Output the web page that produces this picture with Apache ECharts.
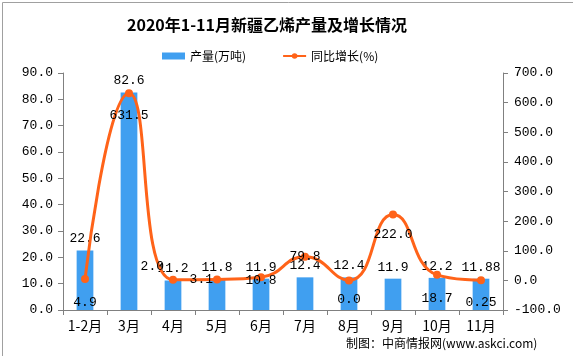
<!DOCTYPE html>
<html><head><meta charset="utf-8">
<script src="https://cdn.jsdelivr.net/npm/echarts@6/dist/echarts.min.js"></script>
<style>html,body{margin:0;padding:0;background:#fff}#c{width:573px;height:356px}</style>
</head><body><div id="c"></div>
<script>
var categories = ['1-2月','3月','4月','5月','6月','7月','8月','9月','10月','11月'];
var output = [22.6, 82.6, 11.2, 11.8, 11.9, 12.4, 12.4, 11.9, 12.2, 11.88];
var growth = [4.9, 631.5, 2.0, 3.1, 10.8, 79.8, 0.0, 222.0, 18.7, 0.25];
var outputLabels = ['22.6','82.6','11.2','11.8','11.9','12.4','12.4','11.9','12.2','11.88'];
var growthLabels = ['4.9','631.5','2.0','3.1','10.8','79.8','0.0','222.0','18.7','0.25'];

var numFont = '"Liberation Mono","Noto Sans CJK SC",monospace';
var cjkFont = '"Noto Sans CJK SC",sans-serif';

// label placement per point (style only)
var linePos = [
  {position:'bottom',distance:13},
  {position:'bottom',distance:12},
  {position:'left',distance:5,offset:[0,-13]},
  {position:'left',distance:0},
  {position:'inside',offset:[0,3]},
  {position:'inside'},
  {position:'bottom',distance:9},
  {position:'bottom',distance:9},
  {position:'bottom',distance:13},
  {position:'bottom',distance:12}
];

var lineData = growth.map(function(v,i){
  var l = Object.assign({show:true, formatter: growthLabels[i]}, linePos[i]);
  return {value: v, label: l};
});
var barData = output.map(function(v,i){
  return {value: v, label: {show:true, position:'top', distance:5, formatter: outputLabels[i]}};
});

var chart = echarts.init(document.getElementById('c'), null, {renderer:'canvas'});
chart.setOption({
  animation:false,
  backgroundColor:'#fff',
  title:{
    text:'2020年1-11月新疆乙烯产量及增长情况',
    left:122, top:12,
    textStyle:{fontFamily:cjkFont, fontSize:16, fontWeight:'bold', color:'#000'}
  },
  legend:{
    left:157, top:45,
    itemWidth:23, itemHeight:7, itemGap:36,
    textStyle:{fontFamily:cjkFont, fontSize:12, color:'#000'},
    data:[
      {name:'产量(万吨)', icon:'rect'},
      {name:'同比增长(%)'}
    ]
  },
  grid:{left:63, right:70, top:73, bottom:46},
  xAxis:{
    type:'category',
    data:categories,
    boundaryGap:true,
    axisLine:{lineStyle:{color:'#808080', width:1}},
    axisTick:{show:true, inside:false, length:5, lineStyle:{color:'#808080'}},
    axisLabel:{fontFamily:cjkFont, fontSize:14, color:'#000', margin:9, interval:0}
  },
  yAxis:[
    {
      type:'value', min:0, max:90, interval:10, position:'left',
      axisLine:{show:true, lineStyle:{color:'#808080'}},
      axisTick:{show:true, length:5, lineStyle:{color:'#808080'}},
      splitLine:{show:false},
      axisLabel:{fontFamily:numFont, fontSize:13, color:'#000', margin:10,
        formatter:function(v){return v.toFixed(1);}}
    },
    {
      type:'value', min:-100, max:700, interval:100, position:'right',
      axisLine:{show:true, lineStyle:{color:'#808080'}},
      axisTick:{show:true, length:5, lineStyle:{color:'#808080'}},
      splitLine:{show:false},
      axisLabel:{fontFamily:numFont, fontSize:13, color:'#000', margin:11,
        formatter:function(v){return v.toFixed(1);}}
    }
  ],
  series:[
    {
      name:'产量(万吨)', type:'bar', yAxisIndex:0,
      data:barData, barWidth:'38%',
      itemStyle:{color:'#409FF0'},
      label:{fontFamily:numFont, fontSize:13, color:'#000'}
    },
    {
      name:'同比增长(%)', type:'line', yAxisIndex:1,
      data:lineData, smooth:0.5,
      symbol:'circle', symbolSize:8,
      lineStyle:{color:'#FF6319', width:3},
      itemStyle:{color:'#FF6319'},
      label:{fontFamily:numFont, fontSize:13, color:'#000'},
      z:3
    }
  ],
  graphic:[
    {type:'rect', left:0, top:0, shape:{x:0,y:0,width:572,height:355},
      style:{fill:'none', stroke:'#a0a0a0', lineWidth:1}, silent:true, z:-1},
    {type:'text', left:346, top:337,
      style:{text:'制图：中商情报网(www.askci.com)', fontFamily:cjkFont, fontSize:12, fill:'#000'}}
  ]
});
</script></body></html>
